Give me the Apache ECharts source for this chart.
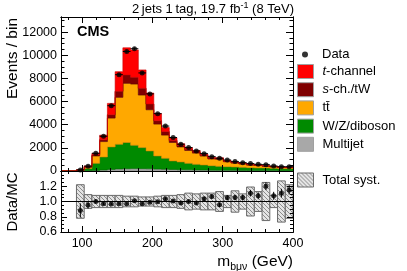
<!DOCTYPE html>
<html><head><meta charset="utf-8">
<script src="https://cdn.jsdelivr.net/npm/echarts@6/dist/echarts.min.js"></script>
<style>html,body{margin:0;padding:0;background:#fff}#c{width:407px;height:271px}</style>
</head><body><div id="c"></div>
<script>
// ---- data ----
const binEdges = [70,81,92,103,114,125,136,147,158,169,180,191,202,213,224,235,246,257,268,279,290,301,312,323,334,345,356,367,378,389,400];
const multijet  = [0,0,10,25,50,90,140,180,200,210,200,190,170,150,130,110,100,90,80,70,65,60,55,50,45,40,38,35,32,30];
const wzDiboson = [0,0,40,185,615,1120,1940,2130,2260,2015,1820,1540,1130,950,740,670,565,490,440,390,340,315,295,270,245,225,222,195,168,170];
const ttbar     = [0,0,30,120,635,1330,2490,4050,5110,5285,4540,3560,2750,2000,1600,1300,1110,965,770,580,610,425,335,285,220,210,150,125,100,90];
const sChTW     = [0,0,10,40,100,160,290,520,720,580,580,490,290,300,170,120,105,95,70,55,60,45,40,35,30,28,22,20,17,16];
const tChannel  = [0,0,12,70,130,390,980,1700,2350,2370,1590,950,630,350,235,157,140,125,90,70,75,60,45,45,37,37,26,25,21,20];
const dataCounts= [0,0,90,420,1530,3000,5640,8320,10320,10560,8470,6660,4950,3880,2890,2310,2020,1730,1500,1240,1100,950,810,720,640,580,550,430,375,375];
const systRel   = [0,0,0.22,0.09,0.08,0.08,0.08,0.08,0.07,0.07,0.06,0.06,0.07,0.08,0.08,0.09,0.11,0.10,0.11,0.11,0.13,0.08,0.14,0.10,0.19,0.13,0.25,0.08,0.27,0.22];
const xMajorTicks = [100,200,300,400];
const xMinorTicks = [80,120,140,160,180,220,240,260,280,320,340,360,380];
const yMainLabels = [0,2000,4000,6000,8000,10000,12000];
const yMainMinor = [500,1000,1500,2500,3000,3500,4500,5000,5500,6500,7000,7500,8500,9000,9500,10500,11000,11500,12500,13000];
const yRatioLabels = [0.6,0.8,1.0,1.2];
const yRatioMajor = [0.8,1.0,1.2];
const yRatioMinor = [0.65,0.7,0.75,0.85,0.9,0.95,1.05,1.1,1.15,1.25,1.3,1.35];

const FONT = '"Liberation Sans", Arial, Helvetica, sans-serif';

function makeHatch(){
  const c = document.createElement('canvas'); c.width = 4; c.height = 4;
  const g = c.getContext('2d');
  g.fillStyle = '#e4e4e4'; g.fillRect(0,0,4,4);
  g.strokeStyle = '#8c8c8c'; g.lineWidth = 1;
  g.beginPath();
  g.moveTo(-1,-1); g.lineTo(5,5);
  g.moveTo(-1,3); g.lineTo(1,5);
  g.moveTo(3,-1); g.lineTo(5,1);
  g.stroke();
  return c;
}
const hatch = {image: makeHatch(), repeat: 'repeat'};

const layers = [
  {name:'Multijet',    vals: multijet,  color:'#a8a8a8', line:'#8a8a8a'},
  {name:'W/Z/diboson', vals: wzDiboson, color:'#008a00', line:'#006a00'},
  {name:'ttbar',       vals: ttbar,     color:'#ffa800', line:'#d08a00'},
  {name:'s-ch./tW',    vals: sChTW,     color:'#800000', line:'#600000'},
  {name:'t-channel',   vals: tChannel,  color:'#ff0000', line:'#d00000'}
];
let base = multijet.map(()=>0);
layers.forEach(L => { L.lo = base.slice(); L.hi = base.map((b,i)=>b+L.vals[i]); base = L.hi; });
const mcTotal = base;

function layerRender(L){
  return function(params, api){
    const pts = [];
    const n = L.hi.length;
    for (let i=0;i<n;i++){ pts.push(api.coord([binEdges[i], L.hi[i]])); pts.push(api.coord([binEdges[i+1], L.hi[i]])); }
    for (let i=n-1;i>=0;i--){ pts.push(api.coord([binEdges[i+1], L.lo[i]])); pts.push(api.coord([binEdges[i], L.lo[i]])); }
    return {type:'polygon', shape:{points:pts}, style:{fill:L.color, stroke:L.line, lineWidth:0.6}};
  };
}

const series = [];
layers.forEach(L => {
  series.push({name:L.name, type:'custom', xAxisIndex:0, yAxisIndex:0, clip:true,
    itemStyle:{color:L.color}, data:[[70,0]], renderItem: layerRender(L), z:2, silent:true});
});

const dataPts = [], dataErr = [], ratioPts = [], ratioErr = [], systBoxes = [];
for (let i=0;i<dataCounts.length;i++){
  const lo = binEdges[i], hi = binEdges[i+1], c = (lo+hi)/2, v = dataCounts[i];
  if (v > 0){ dataPts.push([c, v]); dataErr.push([lo, hi, v, Math.sqrt(v)]); }
  if (mcTotal[i] > 0){
    systBoxes.push([lo, hi, systRel[i]]);
    ratioPts.push([c, v/mcTotal[i]]);
    ratioErr.push([c, v/mcTotal[i], Math.sqrt(v)/mcTotal[i]]);
  }
}
series.push({name:'DataErr', type:'custom', xAxisIndex:0, yAxisIndex:0, z:5, silent:true, data:dataErr,
  renderItem:function(p, api){
    const lo=api.value(0), hi=api.value(1), v=api.value(2), e=api.value(3), c=(lo+hi)/2;
    const a=api.coord([lo,v]), b=api.coord([hi,v]), t=api.coord([c,v+e]), d=api.coord([c,v-e]);
    return {type:'group', children:[
      {type:'line', shape:{x1:a[0],y1:a[1],x2:b[0],y2:b[1]}, style:{stroke:'#000', lineWidth:1}},
      {type:'line', shape:{x1:t[0],y1:t[1],x2:d[0],y2:d[1]}, style:{stroke:'#000', lineWidth:1}}
    ]};
  }});
series.push({name:'Data', type:'scatter', xAxisIndex:0, yAxisIndex:0, z:6, symbol:'circle', symbolSize:5,
  itemStyle:{color:'#000'}, data:dataPts, silent:true});

series.push({name:'Total syst.', type:'custom', xAxisIndex:4, yAxisIndex:4, z:2, silent:true, clip:true,
  itemStyle:{color:hatch, borderColor:'#666'}, data:systBoxes,
  renderItem:function(p, api){
    const lo=api.value(0), hi=api.value(1), s=api.value(2);
    const a=api.coord([lo,1+s]), b=api.coord([hi,1-s]);
    return {type:'rect', shape:{x:a[0], y:a[1], width:b[0]-a[0], height:b[1]-a[1]},
      style:{fill:hatch, stroke:'#6a6a6a', lineWidth:1}};
  }});
series.push({name:'RatioErr', type:'custom', xAxisIndex:4, yAxisIndex:4, z:5, silent:true, clip:true, data:ratioErr,
  renderItem:function(p, api){
    const c=api.value(0), r=api.value(1), e=api.value(2);
    const t=api.coord([c,r+e]), d=api.coord([c,r-e]);
    return {type:'line', shape:{x1:t[0],y1:t[1],x2:d[0],y2:d[1]}, style:{stroke:'#000', lineWidth:1}};
  }});
series.push({name:'Ratio', type:'scatter', xAxisIndex:4, yAxisIndex:4, z:6, symbol:'circle', symbolSize:5,
  itemStyle:{color:'#000'}, data:ratioPts, silent:true,
  markLine:{silent:true, symbol:'none', z:4, data:[{yAxis:1}], label:{show:false},
    lineStyle:{color:'#000', width:1, type:'solid'}}});

const tickStyle = {color:'#000', width:1};
function xAx(grid, pos, ticks, len, labels){
  return {type:'value', gridIndex:grid, position:pos, min:70, max:400, z:10,
    axisLine:{show:true, onZero:false, lineStyle:tickStyle},
    axisTick:{show:true, inside:true, length:len, customValues:ticks, lineStyle:tickStyle},
    axisLabel: labels ? {show:true, customValues:labels, margin:5, color:'#000', fontSize:12.5, fontFamily:FONT} : {show:false},
    splitLine:{show:false}};
}
function yAx(grid, pos, min, max, ticks, len, labels, fmt){
  return {type:'value', gridIndex:grid, position:pos, min:min, max:max, z:10,
    axisLine:{show:true, onZero:false, lineStyle:tickStyle},
    axisTick:{show:true, inside:true, length:len, customValues:ticks, lineStyle:tickStyle},
    axisLabel: labels ? {show:true, customValues:labels, margin:4, color:'#000', fontSize:12.5, fontFamily:FONT, formatter:fmt} : {show:false},
    splitLine:{show:false}};
}
const xAxis = [
  xAx(0,'bottom',xMajorTicks,6,null), xAx(0,'bottom',xMinorTicks,3,null),
  xAx(0,'top',xMajorTicks,6,null), xAx(0,'top',xMinorTicks,3,null),
  xAx(1,'bottom',xMajorTicks,6,xMajorTicks), xAx(1,'bottom',xMinorTicks,3,null),
  xAx(1,'top',xMajorTicks,6,null), xAx(1,'top',xMinorTicks,3,null)
];
const yAxis = [
  yAx(0,'left',0,13300,yMainLabels,7,yMainLabels,v=>String(v)), yAx(0,'left',0,13300,yMainMinor,3.5,null),
  yAx(0,'right',0,13300,yMainLabels,7,null), yAx(0,'right',0,13300,yMainMinor,3.5,null),
  yAx(1,'left',0.6,1.4,yRatioMajor,6,yRatioLabels,v=>Number(v).toFixed(1)), yAx(1,'left',0.6,1.4,yRatioMinor,3,null),
  yAx(1,'right',0.6,1.4,yRatioMajor,6,null), yAx(1,'right',0.6,1.4,yRatioMinor,3,null)
];

const legendText = {fontSize:13, fontFamily:FONT, color:'#000', lineHeight:14,
  rich:{i:{fontStyle:'italic', fontSize:13, fontFamily:FONT, lineHeight:14}}};
const legendFmt = n => ({'t-channel':'{i|t}-channel','s-ch./tW':'{i|s}-ch./tW','ttbar':'tt\u0304'}[n] || n);

const option = {
  animation:false,
  backgroundColor:'#fff',
  grid:[
    {left:61, top:17, width:232, height:154, show:false},
    {left:61, top:171, width:232, height:61, show:false}
  ],
  xAxis: xAxis, yAxis: yAxis,
  legend:[
    {data:[{name:'Data', icon:'circle'}], left:302, top:47.5, itemWidth:6, itemHeight:6, selectedMode:false, padding:0,
      textStyle:Object.assign({}, legendText, {padding:[0,0,0,9]}), formatter:legendFmt},
    {data:['t-channel','s-ch./tW','ttbar','W/Z/diboson','Multijet'], orient:'vertical', left:297, top:64, padding:0,
      itemWidth:16, itemHeight:14, itemGap:3.2, icon:'rect', selectedMode:false,
      itemStyle:{borderColor:'#a0a0a0', borderWidth:1},
      textStyle:Object.assign({}, legendText, {padding:[0,0,0,4]}), formatter:legendFmt},
    {data:['Total syst.'], left:297, top:172.5, itemWidth:16, itemHeight:14, icon:'rect', selectedMode:false, padding:0,
      itemStyle:{color:hatch, borderColor:'#6a6a6a', borderWidth:1},
      textStyle:Object.assign({}, legendText, {padding:[0,0,0,4]})}
  ],
  graphic:[
    {type:'text', x:294, y:9, style:{text:'2\u2009jets 1\u2009tag, 19.7 fb{sup|-1} (8 TeV)', align:'right', verticalAlign:'middle',
      fill:'#000', font:'13px '+FONT, rich:{sup:{fontSize:9, fontFamily:FONT, padding:[0,0,7,0]}}}},
    {type:'text', x:77, y:32, style:{text:'CMS', align:'left', verticalAlign:'middle', fill:'#000', font:'bold 14.5px '+FONT}},
    {type:'text', x:13, y:18, rotation:Math.PI/2, style:{text:'Events / bin', align:'right', verticalAlign:'middle', fill:'#000', font:'15.5px '+FONT}},
    {type:'text', x:13, y:202, rotation:Math.PI/2, style:{text:'Data/MC', align:'center', verticalAlign:'middle', fill:'#000', font:'15px '+FONT}},
    {type:'text', x:293, y:262, style:{text:'m{s|b\u03bc\u03bd} (GeV)', align:'right', verticalAlign:'middle', fill:'#000', font:'15.5px '+FONT,
      rich:{s:{fontSize:10.5, fontFamily:FONT, padding:[10,0,0,0]}}}}
  ],
  series: series
};
const chart = echarts.init(document.getElementById('c'), null, {renderer:'canvas'});
chart.setOption(option);
</script></body></html>
